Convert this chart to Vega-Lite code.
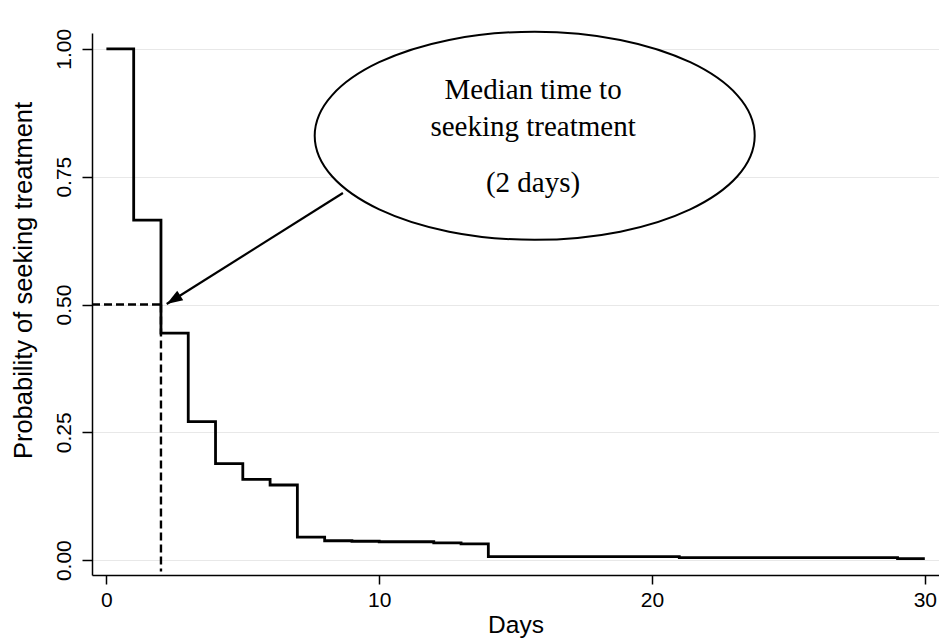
{
  "$schema": "https://vega.github.io/schema/vega-lite/v6.json",
  "width": 847,
  "height": 542,
  "autosize": {"type": "none"},
  "padding": {"left": 92, "top": 33, "right": 0, "bottom": 66},
  "background": "white",
  "config": {
    "view": {"stroke": null},
    "axis": {
      "labelFont": "Liberation Sans",
      "titleFont": "Liberation Sans",
      "labelColor": "black",
      "titleColor": "black",
      "titleFontWeight": "normal",
      "domainColor": "black",
      "domainWidth": 1.5,
      "tickColor": "black",
      "tickWidth": 1.5,
      "gridColor": "#e8e8e8",
      "gridWidth": 1
    }
  },
  "datasets": {
    "km": [
      {"x": 0, "y": 1.0},
      {"x": 1, "y": 0.665},
      {"x": 2, "y": 0.444},
      {"x": 3, "y": 0.271},
      {"x": 4, "y": 0.189},
      {"x": 5, "y": 0.158},
      {"x": 6, "y": 0.147},
      {"x": 7, "y": 0.045},
      {"x": 8, "y": 0.038},
      {"x": 9, "y": 0.037},
      {"x": 10, "y": 0.036},
      {"x": 12, "y": 0.034},
      {"x": 13, "y": 0.032},
      {"x": 14, "y": 0.007},
      {"x": 21, "y": 0.005},
      {"x": 29, "y": 0.003},
      {"x": 30, "y": 0.003}
    ],
    "dashes": [
      {"x": -0.528, "x2": 2, "y": 0.5, "y2": 0.5},
      {"x": 2, "x2": 2, "y": 0.5, "y2": -0.022}
    ],
    "arrow": [
      {"x": 2.21, "y": 0.501, "x2": 8.67, "y2": 0.718}
    ],
    "tip": [
      {"x": 2.21, "y": 0.501}
    ],
    "bubble": [
      {"x": 15.7, "y": 0.83}
    ],
    "labels": [
      {"x": 15.64, "y": 0.92, "label": "Median time to"},
      {"x": 15.64, "y": 0.847, "label": "seeking treatment"},
      {"x": 15.64, "y": 0.738, "label": "(2 days)"}
    ]
  },
  "encoding": {
    "x": {
      "field": "x",
      "type": "quantitative",
      "scale": {"domain": [-0.528, 30.52], "nice": false, "zero": false},
      "axis": {
        "title": "Days",
        "values": [0, 10, 20, 30],
        "grid": false,
        "tickSize": 9,
        "labelFontSize": 21,
        "titleFontSize": 24.5,
        "labelPadding": 5,
        "titlePadding": 3
      }
    },
    "y": {
      "field": "y",
      "type": "quantitative",
      "scale": {"domain": [-0.029, 1.031], "nice": false, "zero": false},
      "axis": {
        "title": "Probability of seeking treatment",
        "values": [0, 0.25, 0.5, 0.75, 1],
        "format": ".2f",
        "grid": true,
        "tickSize": 10,
        "labelAngle": -90,
        "labelFontSize": 21,
        "titleFontSize": 25.5,
        "labelPadding": 8,
        "titlePadding": 17,
        "titleY": 247
      }
    }
  },
  "layer": [
    {
      "data": {"name": "km"},
      "mark": {"type": "line", "interpolate": "step-after", "color": "black", "strokeWidth": 2.8}
    },
    {
      "data": {"name": "dashes"},
      "mark": {"type": "rule", "color": "black", "strokeWidth": 2.4, "strokeDash": [8, 4]},
      "encoding": {
        "x2": {"field": "x2"},
        "y2": {"field": "y2"}
      }
    },
    {
      "data": {"name": "arrow"},
      "mark": {"type": "rule", "color": "black", "strokeWidth": 2.2},
      "encoding": {
        "x2": {"field": "x2"},
        "y2": {"field": "y2"}
      }
    },
    {
      "data": {"name": "tip"},
      "mark": {
        "type": "point",
        "shape": "M 0 0 L -2 -0.7 L -2 0.7 Z",
        "size": 256,
        "angle": 147.8,
        "filled": true,
        "fill": "black",
        "stroke": null,
        "opacity": 1
      }
    },
    {
      "data": {"name": "bubble"},
      "mark": {
        "type": "point",
        "shape": "M -1 0 C -1 -0.261 -0.552 -0.473 0 -0.473 C 0.552 -0.473 1 -0.261 1 0 C 1 0.261 0.552 0.473 0 0.473 C -0.552 0.473 -1 0.261 -1 0 Z",
        "size": 193600,
        "filled": true,
        "fill": "white",
        "stroke": "black",
        "strokeWidth": 2,
        "opacity": 1,
        "fillOpacity": 1,
        "strokeOpacity": 1
      }
    },
    {
      "data": {"name": "labels"},
      "mark": {
        "type": "text",
        "font": "Liberation Serif",
        "fontSize": 29,
        "color": "black",
        "align": "center",
        "baseline": "middle"
      },
      "encoding": {
        "text": {"field": "label"}
      }
    }
  ]
}
